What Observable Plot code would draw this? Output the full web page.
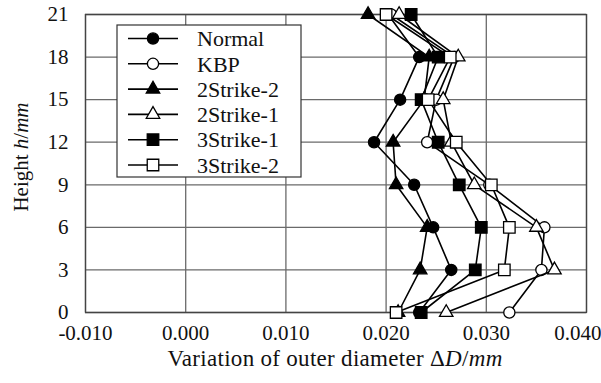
<!DOCTYPE html>
<html>
<head>
<meta charset="utf-8">
<script src="https://cdn.jsdelivr.net/npm/d3@7"></script>
<script src="https://cdn.jsdelivr.net/npm/@observablehq/plot@0.6"></script>
<style>
  html, body { margin: 0; padding: 0; background: white; }
  #wrap { position: relative; width: 601px; height: 383px; overflow: hidden; font-family: "Liberation Serif", "Tinos", "Times", "DejaVu Serif", serif; color: #111; }
  #wrap svg.plot { position: absolute; left: 0; top: 0; }
  #wrap svg text { font-family: "Liberation Serif", "Tinos", "Times", "DejaVu Serif", serif !important; }
  .xtitle { position: absolute; left: 85px; width: 500px; top: 346px; text-align: center; font-size: 23px; letter-spacing: 0.3px; line-height: 26px; white-space: nowrap; }
  .ytitle { position: absolute; left: 21px; top: 157px; font-size: 21px; line-height: 24px; white-space: nowrap; transform: translate(-50%, -50%) rotate(-90deg); }
</style>
</head>
<body>
<div id="wrap"></div>
<script>
// ---- data ----
const heights = [0, 3, 6, 9, 12, 15, 18, 21];
const seriesNames = ["Normal", "KBP", "2Strike-2", "2Strike-1", "3Strike-1", "3Strike-2"];
const normal    = [0.0233, 0.0265, 0.0247, 0.0228, 0.0188, 0.0214, 0.0233, 0.0202];
const kbp       = [0.0323, 0.0355, 0.0358, 0.0303, 0.0241, 0.0250, 0.0268, 0.0205];
const strike2_2 = [0.0212, 0.0234, 0.0241, 0.0210, 0.0207, 0.0238, 0.0243, 0.0182];
const strike2_1 = [0.0260, 0.0368, 0.0350, 0.0288, 0.0265, 0.0257, 0.0272, 0.0213];
const strike3_1 = [0.0235, 0.0289, 0.0295, 0.0273, 0.0252, 0.0235, 0.0252, 0.0225];
const strike3_2 = [0.0210, 0.0318, 0.0323, 0.0305, 0.0270, 0.0242, 0.0264, 0.0200];
const xTicks = [-0.010, 0.000, 0.010, 0.020, 0.030, 0.040];
const yTicks = [0, 3, 6, 9, 12, 15, 18, 21];

const seriesValues = [normal, kbp, strike2_2, strike2_1, strike3_1, strike3_2];
const shapes = ["circle", "circle", "triangle", "triangle", "square", "square"];
const filled = [true, false, true, false, true, false];
const radii = {circle: 5.6, triangle: 5.0, square: 6.5};

const rowsFor = (vals, name) => heights.map((h, j) => ({series: name, h, d: vals[j]}));
const fmt = d => d.toFixed(3);
const FONT = "'Liberation Serif', Tinos, Times, 'DejaVu Serif', serif";

const marks = [
  Plot.gridX(xTicks, {stroke: "#6a6a6a", strokeOpacity: 1, strokeWidth: 1.3}),
  Plot.gridY(yTicks, {stroke: "#6a6a6a", strokeOpacity: 1, strokeWidth: 1.3}),
  Plot.frame({stroke: "#444", strokeWidth: 1.3}),
  Plot.axisY(yTicks, {tickSize: 0, tickPadding: 17, tickFormat: d => String(d), label: null, fontSize: 21, fontFamily: FONT}),
  Plot.axisX(xTicks.slice(0, -1), {tickSize: 0, tickPadding: 13, tickFormat: fmt, label: null, fontSize: 21, fontFamily: FONT}),
  Plot.axisX(xTicks.slice(-1), {tickSize: 0, tickPadding: 13, tickFormat: fmt, label: null, fontSize: 21, fontFamily: FONT, textAnchor: "end", dx: 15})
];
seriesValues.forEach((vals, i) => {
  const rows = rowsFor(vals, seriesNames[i]);
  marks.push(Plot.line(rows, {x: "d", y: "h", stroke: "black", strokeWidth: 1.6}));
  marks.push(Plot.dot(rows, {
    x: "d", y: "h", symbol: () => shapes[i], r: radii[shapes[i]],
    fill: filled[i] ? "black" : "white", stroke: "black", strokeWidth: 1.3
  }));
});

const chart = Plot.plot({
  width: 601,
  height: 383,
  marginLeft: 85,
  marginRight: 15,
  marginTop: 14,
  marginBottom: 71,
  style: {fontFamily: FONT, fontSize: "21px", color: "#111", background: "white", overflow: "visible"},
  x: {domain: [-0.010, 0.040], label: null},
  y: {domain: [0, 21], label: null},
  symbol: {type: "identity"},
  marks
});
chart.classList.add("plot");
const wrap = document.getElementById("wrap");
wrap.appendChild(chart);

// ---- axis titles ----
const xt = document.createElement("div");
xt.className = "xtitle";
xt.innerHTML = "Variation of outer diameter \u0394<i>D</i>/<i>mm</i>";
wrap.appendChild(xt);
const yt = document.createElement("div");
yt.className = "ytitle";
yt.innerHTML = "Height <i>h</i>/<i>mm</i>";
wrap.appendChild(yt);

// ---- legend ----
const lw = 184, lh = 152, step = 25.3, y0 = 13.5;
const leg = d3.create("svg").attr("width", lw + 2).attr("height", lh + 2)
  .style("position", "absolute").style("left", "116px").style("top", "24px").style("overflow", "visible");
leg.append("rect").attr("x", 1).attr("y", 1).attr("width", lw).attr("height", lh)
  .attr("fill", "white").attr("stroke", "#333").attr("stroke-width", 1.2);
seriesNames.forEach((name, i) => {
  const cy = 1 + y0 + i * step;
  const g = leg.append("g");
  g.append("line").attr("x1", 12).attr("x2", 62).attr("y1", cy).attr("y2", cy)
    .attr("stroke", "black").attr("stroke-width", 1.6);
  const r = radii[shapes[i]];
  const sym = shapes[i] === "circle" ? d3.symbolCircle : shapes[i] === "square" ? d3.symbolSquare : d3.symbolTriangle;
  g.append("path").attr("d", d3.symbol(sym, Math.PI * r * r)())
    .attr("transform", `translate(37,${cy})`)
    .attr("fill", filled[i] ? "black" : "white").attr("stroke", "black").attr("stroke-width", 1.3);
  g.append("text").attr("x", 81).attr("y", cy).attr("dy", "0.35em")
    .attr("font-size", 22).attr("font-family", FONT).attr("fill", "#111")
    .text(name);
});
wrap.appendChild(leg.node());
</script>
</body>
</html>
